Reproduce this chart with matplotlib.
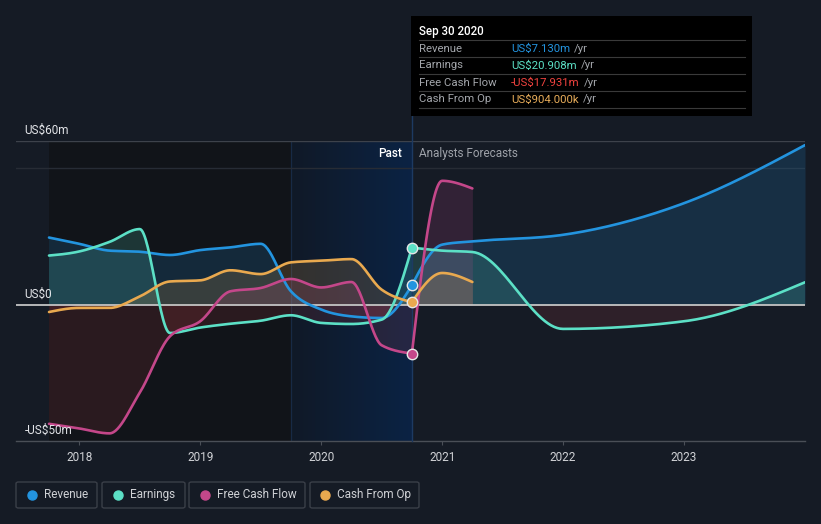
import numpy as np
import matplotlib.pyplot as plt
from matplotlib.patches import Rectangle, FancyBboxPatch
from matplotlib.lines import Line2D
from matplotlib.colors import LinearSegmentedColormap
import matplotlib.transforms as mtransforms

plt.rcParams['font.family'] = ['Roboto', 'DejaVu Sans']

# -----------------------------
# data (US$m)
# -----------------------------
past_t = [2017.75, 2018.0, 2018.25, 2018.5, 2018.75, 2019.0, 2019.25,
          2019.5, 2019.75, 2020.0, 2020.25, 2020.5, 2020.75]
revenue_past = [24.6, 22.3, 19.8, 19.4, 18.2, 20.0, 21.0, 22.3, 4.9, -1.8, -4.3, -4.9, 7.13]
earnings_past = [18.0, 19.5, 23.0, 27.7, -10.4, -8.4, -7.0, -5.9, -3.9, -6.7, -7.1, -5.5, 20.908]
fcf_past = [-43.7, -45.4, -47.2, -32.3, -11.6, -6.1, 4.9, 6.1, 9.4, 6.3, 8.3, -14.9, -17.931]
cfo_past = [-2.7, -1.2, -1.2, 3.0, 8.5, 8.9, 12.6, 11.2, 15.5, 16.1, 16.7, 5.5, 0.904]

fc_t_long = [2020.75, 2021.0, 2021.25, 2022.0, 2023.0, 2024.0]
revenue_fc = [7.13, 22.0, 23.2, 25.6, 37.2, 58.5]
earnings_fc = [20.908, 19.8, 19.3, -8.9, -6.1, 8.2]
fc_t_short = [2020.75, 2021.0, 2021.25]
fcf_fc = [-17.931, 45.4, 42.6]
cfo_fc = [0.904, 11.6, 8.3]

years = [2018, 2019, 2020, 2021, 2022, 2023]
y_labels = {60: "US$60m", 0: "US$0", -50: "-US$50m"}

series_names = ["Revenue", "Earnings", "Free Cash Flow", "Cash From Op"]
tooltip_values = ["US$7.130m", "US$20.908m", "-US$17.931m", "US$904.000k"]

# colours
BG = "#151b25"
REV = "#2394df"
EARN = "#5ce0c6"
FCF = "#c4478a"
CFO = "#e9a94f"
NEG = "#e34b4b"
colors = [REV, EARN, FCF, CFO]
value_colors = [REV, EARN, "#f2433f", "#e8ad5a"]
W, H = 821, 524


def monotone(t, v, n=30):
    # d3 style monotone-x curve
    t = np.asarray(t, float)
    v = np.asarray(v, float)
    h = np.diff(t)
    d = np.diff(v) / h
    m = np.zeros_like(v)
    for k in range(1, len(v) - 1):
        p = (d[k - 1] * h[k] + d[k] * h[k - 1]) / (h[k - 1] + h[k])
        m[k] = (np.sign(d[k - 1]) + np.sign(d[k])) * min(abs(d[k - 1]), abs(d[k]), 0.5 * abs(p))
    if len(v) > 2:
        m[0] = (3 * d[0] - m[1]) / 2
        m[-1] = (3 * d[-1] - m[-2]) / 2
    else:
        m[:] = d[0]
    xs, ys = [], []
    for k in range(len(v) - 1):
        s = np.linspace(0, 1, n, endpoint=(k == len(v) - 2))
        h00 = 2 * s**3 - 3 * s**2 + 1
        h10 = s**3 - 2 * s**2 + s
        h01 = -2 * s**3 + 3 * s**2
        h11 = s**3 - s**2
        xs.append(t[k] + s * h[k])
        ys.append(h00 * v[k] + h10 * h[k] * m[k] + h01 * v[k + 1] + h11 * h[k] * m[k + 1])
    return np.concatenate(xs), np.concatenate(ys)


def fx(px):
    return px / W


def fy(py):
    return 1 - py / H


def main():
    fig = plt.figure(figsize=(W / 100, H / 100), dpi=100, facecolor=BG)
    ax = fig.add_axes([fx(16), fy(441), (805 - 16) / W, 300 / H])
    ax.set_facecolor(BG)

    # past shading
    ax.axvspan(2017.75, 2019.75, color="#111419", lw=0, zorder=0)
    grad = LinearSegmentedColormap.from_list("g", ["#101927", "#0b2344"])
    ax.imshow(np.linspace(0, 1, 256).reshape(1, -1), extent=[2019.75, 2020.75, -50, 60],
              cmap=grad, aspect="auto", zorder=0.5)
    ax.axvline(2019.75, color="#172a45", lw=0.9, zorder=0.6)
    ax.set_xlim(2017.477, 2024.0)
    ax.set_ylim(-50, 60)

    # grid
    ax.axhline(60, color="#3d424b", lw=1.0, zorder=1)
    ax.axhline(50, color="#272c35", lw=1.0, zorder=1)

    curves = [
        (past_t, revenue_past, fc_t_long, revenue_fc, REV),
        (past_t, earnings_past, fc_t_long, earnings_fc, EARN),
        (past_t, fcf_past, fc_t_short, fcf_fc, FCF),
        (past_t, cfo_past, fc_t_short, cfo_fc, CFO),
    ]
    for i, (t1, v1, t2, v2, c) in enumerate(curves):
        for t, v in ((t1, v1), (t2, v2)):
            xs, ys = monotone(t, v)
            ax.fill_between(xs, ys, 0, where=ys >= 0, interpolate=True,
                            color=c, alpha=0.17, lw=0, zorder=2)
            ax.fill_between(xs, ys, 0, where=ys <= 0, interpolate=True,
                            color=NEG, alpha=0.12, lw=0, zorder=2)
            ax.plot(xs, ys, color=c, lw=1.9, zorder=4 + i * 0.1,
                    solid_capstyle="round")

    ax.axhline(0, color="#c4c4c4", lw=1.3, zorder=3)

    # divider / tooltip line
    ax.plot([2020.75, 2020.75], [-50, 69.2], color="#1d3a62", lw=1.0,
            zorder=3.5, clip_on=False)

    # markers at the last reported point
    for vals, c in zip([revenue_past, earnings_past, fcf_past, cfo_past], colors):
        ax.plot(past_t[-1], vals[-1], "o", ms=7.5, mfc=c, mec="#e6e6e6",
                mew=1.0, zorder=6)

    # axes styling
    for s in ["top", "left", "right"]:
        ax.spines[s].set_visible(False)
    ax.spines["bottom"].set_color("#4a4f57")
    ax.spines["bottom"].set_linewidth(1.0)
    ax.set_xticks(years)
    ax.set_xticklabels([str(y) for y in years])
    ax.tick_params(axis="x", colors="#4a4f57", labelcolor="#d0d2d6",
                   labelsize=8.5, length=3, pad=4)
    ax.set_yticks([])

    trans = mtransforms.blended_transform_factory(ax.transAxes, ax.transData)
    for v, lab in y_labels.items():
        ax.annotate(lab, xy=(0, v), xycoords=trans, xytext=(6, 5),
                    textcoords="offset points", color="#e2e4e8", fontsize=8.5,
                    ha="left", va="baseline", zorder=7)

    ax.annotate("Past", xy=(2020.75, 60), xytext=(-7, -9), textcoords="offset points",
                color="#ffffff", fontsize=8.5, fontweight="medium", ha="right", va="center")
    ax.annotate("Analysts Forecasts", xy=(2020.75, 60), xytext=(5, -9),
                textcoords="offset points", color="#9ea2a9", fontsize=8.5,
                ha="left", va="center")

    # tooltip
    fig.add_artist(Rectangle((fx(411), fy(116)), (752 - 411) / W, 100 / H,
                             transform=fig.transFigure, facecolor="#000000",
                             edgecolor="none", zorder=5))
    fig.text(fx(419), fy(31), "Sep 30 2020", color="#ffffff", fontsize=8.3,
             fontweight="medium", va="center", ha="left", zorder=6)
    for ly in [40, 57, 74, 91, 108]:
        fig.add_artist(Line2D([fx(419), fx(745)], [fy(ly), fy(ly)],
                              transform=fig.transFigure, color="#3a3a3a", lw=0.8, zorder=6))
    renderer = fig.canvas.get_renderer()
    for k, (name, val, vc) in enumerate(zip(series_names, tooltip_values, value_colors)):
        ry = fy(48.5 + k * 17)
        fig.text(fx(419), ry, name, color="#a3a6ab", fontsize=8.2, va="center",
                 ha="left", zorder=6)
        tv = fig.text(fx(511), ry, val, color=vc, fontsize=8.2, va="center",
                      ha="left", zorder=6)
        bb = tv.get_window_extent(renderer=renderer)
        fig.text(bb.x1 / W + fx(4), ry, "/yr", color="#a3a6ab", fontsize=8.2,
                 va="center", ha="left", zorder=6)

    # legend
    boxes = [(16, 97), (102, 185), (189, 305), (310, 419)]
    dots = [32, 118, 205, 325]
    for (x0, x1), dx, name, c in zip(boxes, dots, series_names, colors):
        fig.add_artist(FancyBboxPatch((fx(x0), fy(508)), (x1 - x0) / W, 26 / H,
                                      boxstyle="round,pad=0,rounding_size=0.003",
                                      transform=fig.transFigure, facecolor="none",
                                      edgecolor="#3a3f48", lw=1.0))
        fig.add_artist(Line2D([fx(dx)], [fy(494.5)], marker="o", ms=6.5, color=c,
                              mec=c, transform=fig.transFigure))
        fig.text(fx(dx + 12), fy(494.5), name, color="#cfd1d5", fontsize=8.5,
                 va="center", ha="left")

    fig.savefig("out.png", dpi=100, facecolor=BG)


if __name__ == "__main__":
    main()
